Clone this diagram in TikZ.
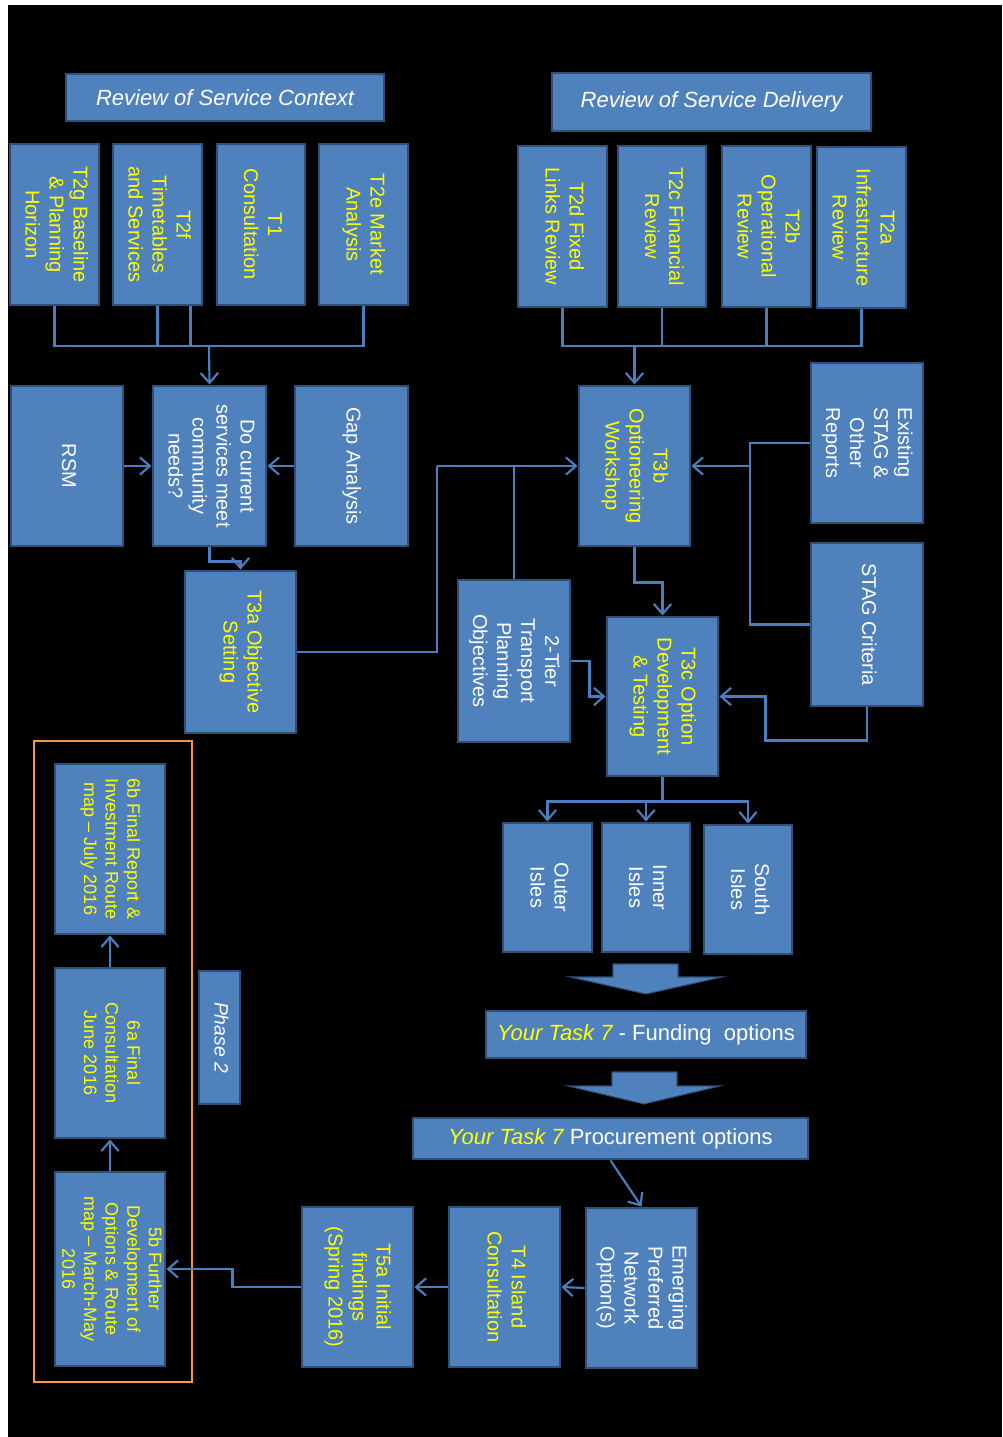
\documentclass[tikz,border=0pt]{standalone}
\usepackage{fontspec}
\setmainfont{Liberation Sans}
\usetikzlibrary{arrows.meta,fit,calc}
\definecolor{boxblue}{HTML}{4F81BD}
\definecolor{boxedge}{HTML}{2F5077}
\definecolor{linkblue}{HTML}{4A7EBF}
\definecolor{txtyellow}{HTML}{FFFF00}
\definecolor{phaseorange}{HTML}{F79646}
\newcommand{\vtxt}[1]{\rotatebox{-90}{\begin{tabular}{@{}c@{}}#1\end{tabular}}}
\begin{document}
\begin{tikzpicture}[x=0.75pt,y=-0.75pt,
  box/.style={draw=boxedge, fill=boxblue, line width=2.2pt, inner sep=0pt},
  ytext/.style={text=txtyellow, font=\fontsize{15}{18}\selectfont},
  wtext/.style={text=white, font=\fontsize{15}{18}\selectfont},
  ysmall/.style={text=txtyellow, font=\fontsize{13.5}{16.2}\selectfont},
  head/.style={text=white, font=\fontsize{16.5}{20}\selectfont\itshape},
  bar/.style={text=white, font=\fontsize{16.5}{20}\selectfont},
  link/.style={draw=linkblue, line width=1.6pt},
  arr/.style={link, -{Straight Barb[length=7.5pt,width=13pt]}},
  blockarrow/.style={fill=boxblue, draw=boxedge, line width=0.8pt}
]
% background
\useasboundingbox (0,0) rectangle (1002,1437);
\fill[white] (0,0) rectangle (1002,1437);
\fill[black] (8,5) rectangle (1002,1437);

% headers
\node[box, head, minimum width=318*0.75pt, minimum height=47*0.75pt] (rsc) at (225,97.5) {Review of Service Context};
\node[box, head, minimum width=319*0.75pt, minimum height=58*0.75pt] (rsd) at (711.5,102) {Review of Service Delivery};

% top-left row
\node[box, ytext, fit={(10,144)(99,305)}] (t2g) {\vtxt{T2g Baseline\\\& Planning\\Horizon}};
\node[box, ytext, fit={(113,144)(202,305)}] (t2f) {\vtxt{T2f\\Timetables\\and Services}};
\node[box, ytext, fit={(217,144)(305,305)}] (t1) {\vtxt{T1\\Consultation}};
\node[box, ytext, fit={(319,144)(408,305)}] (t2e) {\vtxt{T2e Market\\Analysis}};

% top-right row
\node[box, ytext, fit={(518,146)(607,307)}] (t2d) {\vtxt{T2d Fixed\\Links Review}};
\node[box, ytext, fit={(618,146)(706,307)}] (t2c) {\vtxt{T2c Financial\\Review}};
\node[box, ytext, fit={(722,146)(811,307)}] (t2b) {\vtxt{T2b\\Operational\\Review}};
\node[box, ytext, fit={(817,147)(906,308)}] (t2a) {\vtxt{T2a\\Infrastructure\\Review}};

% middle left
\node[box, wtext, fit={(11,386)(123,546)}] (rsm) {\vtxt{RSM}};
\node[box, wtext, fit={(153,386)(266,546)}] (do) {\vtxt{Do current\\services meet\\community\\needs?}};
\node[box, wtext, fit={(295,386)(408,546)}] (gap) {\vtxt{Gap Analysis}};
\node[box, ytext, fit={(185,571)(296,733)}] (t3a) {\vtxt{T3a Objective\\Setting}};

% middle right
\node[box, ytext, fit={(579,386)(690,546)}] (t3b) {\vtxt{T3b\\Optioneering\\Workshop}};
\node[box, wtext, fit={(811,363)(923,523)}] (exist) {\vtxt{Existing\\STAG \&\\Other\\Reports}};
\node[box, wtext, fit={(811,543)(923,706)}] (stag) {\vtxt{STAG Criteria}};
\node[box, wtext, fit={(458,580)(570,742)}] (tier) {\vtxt{2-Tier\\Transport\\Planning\\Objectives}};
\node[box, ytext, fit={(607,617)(718,776)}] (t3c) {\vtxt{T3c Option\\Development\\\& Testing}};

% isles
\node[box, wtext, fit={(503,823)(592,952)}] (outer) {\vtxt{Outer\\Isles}};
\node[box, wtext, fit={(602,823)(690,952)}] (inner) {\vtxt{Inner\\Isles}};
\node[box, wtext, fit={(704,825)(792,954)}] (south) {\vtxt{South\\Isles}};

% block arrows and task bars
\path[blockarrow] (613,964) -- (678,964) -- (678,977) -- (722,977) -- (646,994) -- (570,977) -- (613,977) -- cycle;
\node[box, bar, minimum width=320*0.75pt, minimum height=47*0.75pt] (fund) at (646,1034.5) {\textcolor{txtyellow}{\itshape Your Task 7} - Funding\ \ options};
\path[blockarrow] (612,1072) -- (677,1072) -- (677,1086) -- (720,1086) -- (644,1104) -- (568,1086) -- (612,1086) -- cycle;
\node[box, bar, minimum width=395*0.75pt, minimum height=41*0.75pt] (proc) at (610.5,1138.5) {\textcolor{txtyellow}{\itshape Your Task 7} Procurement options};

% bottom row
\node[box, wtext, fit={(586,1208)(697,1368)}] (emerg) {\vtxt{Emerging\\Preferred\\Network\\Option(s)}};
\node[box, ytext, fit={(449,1207)(560,1367)}] (t4) {\vtxt{T4 Island\\Consultation}};
\node[box, ytext, fit={(302,1207)(413,1367)}] (t5a) {\vtxt{T5a Initial\\findings\\(Spring 2016)}};

% phase 2
\node[draw=phaseorange, line width=2.2pt, inner sep=0pt, fit={(34,741)(192,1382)}] (phasebox) {};
\node[box, ysmall, fit={(55,764)(165,934)}] (b6) {\vtxt{6b Final Report \&\\Investment Route\\map -- July 2016}};
\node[box, ysmall, fit={(55,968)(165,1138)}] (a6) {\vtxt{6a Final\\Consultation\\June 2016}};
\node[box, ysmall, fit={(55,1172)(165,1366)}] (b5) {\vtxt{5b Further\\Development of\\Options \& Route\\map -- March-May\\2016}};
\node[box, text=white, font=\fontsize{14.5}{18}\selectfont\itshape, fit={(199,971)(240,1104)}] (ph2) {\vtxt{Phase 2}};

% connectors: top-left bus
\coordinate (lbus) at (209,346);
\draw[link] (t2g.south) |- (lbus);
\draw[link] (t2e.south) |- (lbus);
\draw[link] (t2f.south) -- (t2f.south |- lbus);
\draw[link] ($(t2f.south)+(33,0)$) -- ($(t2f.south |- lbus)+(33,0)$);
\draw[arr] (lbus) -- (do.north);

% connectors: top-right bus
\coordinate (rbus) at (634.5,346);
\draw[link] (t2d.south) |- (rbus);
\draw[link] (t2a.south) |- (rbus);
\draw[link] (t2c.south) -- (t2c.south |- rbus);
\draw[link] (t2b.south) -- (t2b.south |- rbus);
\draw[arr] (rbus) -- (t3b.north);

% middle left
\draw[arr] (rsm.east) -- (do.west);
\draw[arr] (gap.west) -- (do.east);
\draw[arr] (do.south) -- ++(0,14) -| (t3a.north);

% T3a and 2-Tier into T3b
\coordinate (j1) at (437,466);
\draw[link] (t3a.east) -| (j1);
\draw[arr] (j1) -- (t3b.west);
\draw[link] (tier.north) -- (tier.north |- j1);

% reports into T3b
\coordinate (j2) at (750,466);
\draw[link] (exist.west) -| (j2);
\draw[link] (stag.west) -| (j2);
\draw[arr] (j2) -- (t3b.east);

% into T3c
\draw[arr] (t3b.south) -- ++(0,35) -| (t3c.north);
\draw[arr] (tier.east) -- ++(18,0) |- (t3c.west);
\draw[arr] (stag.south) -- ++(0,33) -| ($(t3c.east)+(46,0)$) -- (t3c.east);

% to isles
\draw[link] (t3c.south) -- ++(0,24) coordinate (ib);
\draw[arr] (ib) -| (outer.north);
\draw[arr] (ib) -| (south.north);
\draw[arr] (inner.north |- ib) -- (inner.north);

% bottom flow
\draw[arr] (proc.south) -- (emerg.north);
\draw[arr] (emerg.west) -- (t4.east);
\draw[arr] (t4.west) -- (t5a.east);
\draw[arr] (t5a.west) -- ++(-68,0) |- (b5.east);
\draw[arr] (b5.north) -- (a6.south);
\draw[arr] (a6.north) -- (b6.south);
\end{tikzpicture}
\end{document}
